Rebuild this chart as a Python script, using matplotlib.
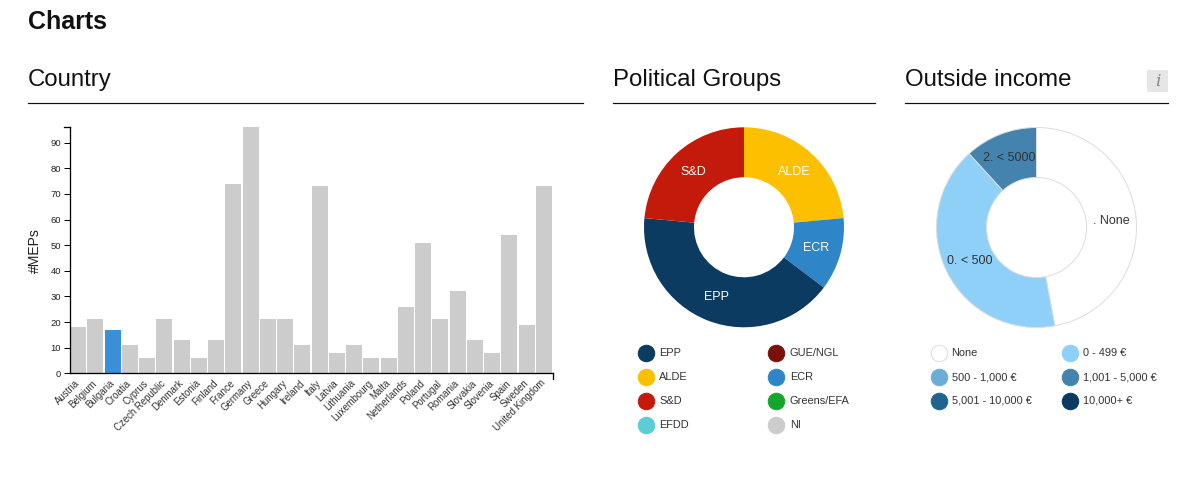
import matplotlib
matplotlib.use("Agg")
from matplotlib import pyplot as plt
from matplotlib.lines import Line2D
from matplotlib.patches import Rectangle

plt.rcParams['font.family'] = ['Liberation Sans', 'DejaVu Sans']

# data
countries = ["Austria", "Belgium", "Bulgaria", "Croatia", "Cyprus", "Czech Republic",
             "Denmark", "Estonia", "Finland", "France", "Germany", "Greece", "Hungary",
             "Ireland", "Italy", "Latvia", "Lithuania", "Luxembourg", "Malta",
             "Netherlands", "Poland", "Portugal", "Romania", "Slovakia", "Slovenia",
             "Spain", "Sweden", "United Kingdom"]
meps = [18, 21, 17, 11, 6, 21, 13, 6, 13, 74, 96, 21, 21, 11, 73, 8, 11, 6, 6,
        26, 51, 21, 32, 13, 8, 54, 19, 73]
selected_country = "Bulgaria"

group_keys = ["ALDE", "ECR", "EPP", "S&D"]
group_counts = [4, 2, 7, 4]
group_colors = {"EPP": "#0b3b60", "GUE/NGL": "#7b0f0a", "ALDE": "#fdc000",
                "ECR": "#2e86c8", "S&D": "#c41a0b", "Greens/EFA": "#14a52c",
                "EFDD": "#5ccdd6", "NI": "#cccccc"}
group_legend = ["EPP", "GUE/NGL", "ALDE", "ECR", "S&D", "Greens/EFA", "EFDD", "NI"]

income_keys = [". None", "0. < 500", "2. < 5000"]
income_counts = [8, 7, 2]
income_slice_colors = ["#ffffff", "#8fd0f8", "#4483ae"]
income_legend = ["None", "0 - 499 €", "500 - 1,000 €", "1,001 - 5,000 €",
                 "5,001 - 10,000 €", "10,000+ €"]
income_legend_colors = ["#ffffff", "#8fd0f8", "#6aaed6", "#4483ae", "#1f6490", "#0a3a60"]

W, H = 1198, 483
fig = plt.figure(figsize=(W / 100, H / 100), dpi=100)


def fx(px):
    return px / W


def fy(py):
    return 1 - py / H


def pt(px):
    return px * 0.72


# headings
fig.text(fx(28), fy(29), "Charts", fontsize=pt(25), fontweight='bold', color='#111111', va='baseline')
for x0, x1, title in [(28, 583, "Country"), (613, 875, "Political Groups"), (905, 1168, "Outside income")]:
    fig.text(fx(x0), fy(86), title, fontsize=pt(24), color='#111111', va='baseline')
    fig.add_artist(Line2D([fx(x0), fx(x1)], [fy(103), fy(103)], color='#111111', lw=pt(1.2)))

# info icon
fig.add_artist(Rectangle((fx(1147), fy(92)), 21 / W, 22 / H, facecolor='#e6e6e6', edgecolor='none'))
fig.text(fx(1157.5), fy(81), "i", fontsize=pt(17), family='DejaVu Serif', style='italic',
         color='#888888', ha='center', va='center')

# bar chart
ax = fig.add_axes([fx(70), fy(373.3), (553 - 70) / W, (373.3 - 127.3) / H])
colors = ['#3a8fd9' if c == selected_country else '#cccccc' for c in countries]
ax.bar(range(len(countries)), meps, width=0.93, color=colors)
ax.set_xlim(-0.465, len(countries) - 0.47)
ax.set_ylim(0, 96)
ax.set_yticks(range(0, 91, 10))
ax.set_xticks(range(len(countries)))
ax.set_xticklabels(countries, rotation=45, ha='right', va='center', rotation_mode='anchor')
ax.tick_params(axis='x', length=0, pad=6, labelsize=pt(9.6), labelcolor='#333333')
ax.tick_params(axis='y', length=4.3, width=pt(1), pad=2, labelsize=pt(9.5), labelcolor='#222222')
for s in ['top', 'right']:
    ax.spines[s].set_visible(False)
for s in ['left', 'bottom']:
    ax.spines[s].set_linewidth(pt(1.3))
ax.plot([1, 1], [0, -6 / 246], color='black', lw=pt(1.3), transform=ax.transAxes, clip_on=False)
ax.plot([0, -6 / 482], [1, 1], color='black', lw=pt(1.3), transform=ax.transAxes, clip_on=False)
ax.set_ylabel("#MEPs", fontsize=pt(14), color='#222222')
ax.yaxis.set_label_coords(-0.058, 0.5)


def donut(cx, cy, values, labels, cols, textcolor, edge):
    a = fig.add_axes([fx(cx - 101), fy(cy + 101), 202 / W, 202 / H])
    wedges, texts = a.pie(values, labels=labels, colors=cols, startangle=90, counterclock=False,
                          radius=1, labeldistance=0.75,
                          wedgeprops=dict(width=0.5, edgecolor=edge, linewidth=pt(1) if edge else 0),
                          textprops=dict(color=textcolor, fontsize=pt(12.5)))
    for t in texts:
        t.set_ha('center')
        t.set_va('center')
    a.set_xlim(-1.01, 1.01)
    a.set_ylim(-1.01, 1.01)
    a.set_aspect('equal')
    a.axis('off')
    return a


donut(744, 227.3, group_counts, group_keys, [group_colors[k] for k in group_keys], 'white', None)
donut(1036.5, 227.5, income_counts, income_keys, income_slice_colors, '#333333', '#dddddd')


def legend(labels, cols, xs, txs, ys, edge=None):
    for i, (lab, col) in enumerate(zip(labels, cols)):
        r, c = divmod(i, 2)
        fig.add_artist(Line2D([fx(xs[c])], [fy(ys[r])], marker='o', markersize=pt(16.5), linestyle='none',
                              markerfacecolor=col,
                              markeredgecolor=edge if (edge and col == '#ffffff') else col,
                              markeredgewidth=pt(1)))
        fig.text(fx(txs[c]), fy(ys[r]), lab, fontsize=pt(11), color='#333333', va='center')


legend(group_legend, [group_colors[k] for k in group_legend], [646, 776], [659, 790],
       [353, 377, 401, 425])
legend(income_legend, income_legend_colors, [938.5, 1070], [951.5, 1083], [353, 377, 400.5],
       edge='#dddddd')

fig.savefig("out.png", dpi=100)
